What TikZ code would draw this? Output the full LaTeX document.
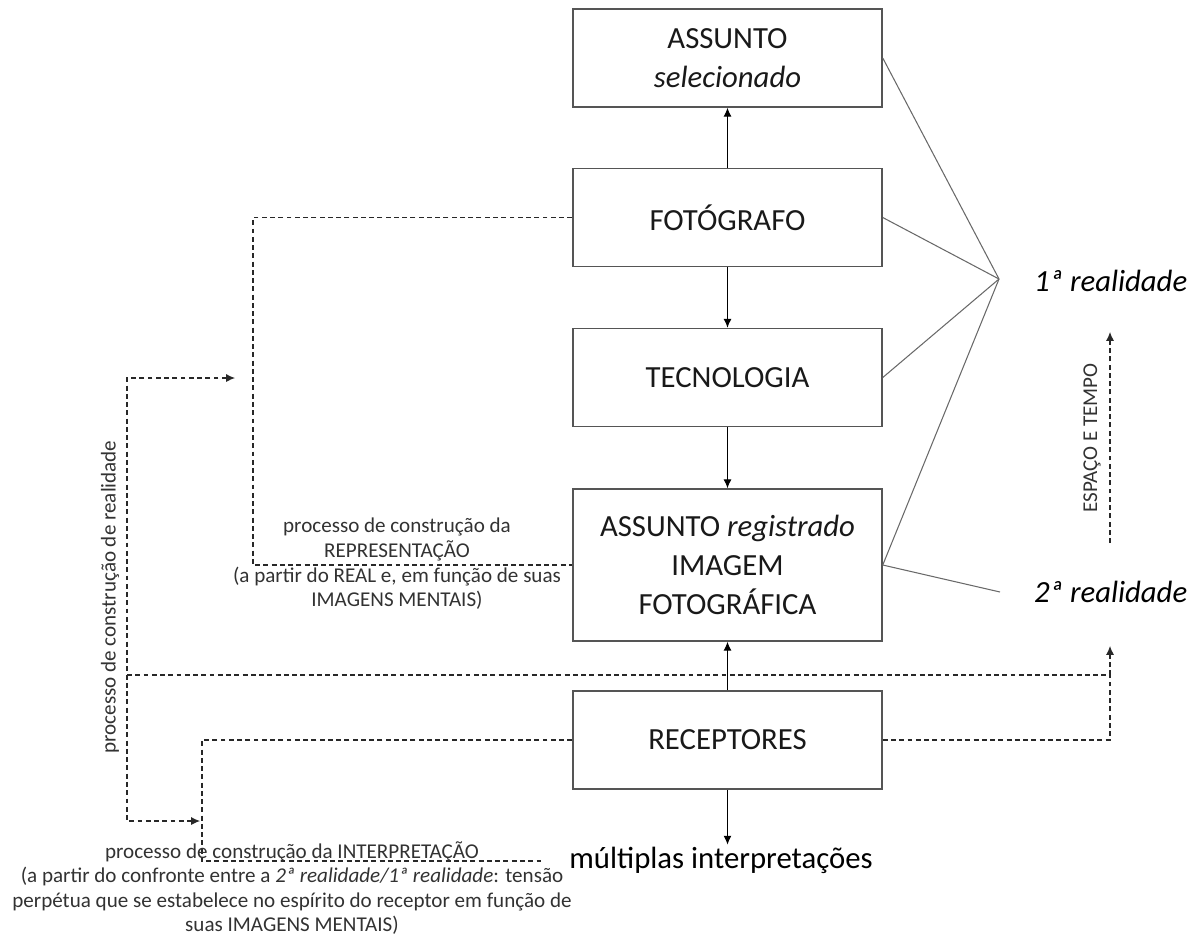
\documentclass[tikz,border=0pt]{standalone}
\usepackage{fontspec}
\setmainfont{Carlito}
\usetikzlibrary{arrows.meta, positioning}
\definecolor{boxgray}{RGB}{85,85,85}
\definecolor{linegray}{RGB}{105,105,105}
\definecolor{dashgray}{RGB}{40,40,40}
\definecolor{notegray}{RGB}{50,50,50}

\begin{document}
\begin{tikzpicture}[x=0.02cm, y=-0.02cm,
    box/.style={draw=boxgray, line width=0.9pt, minimum width=6.18cm, minimum height=1.96cm, align=center, text=black!90, font=\fontsize{17.5}{22}\selectfont},
    note/.style={align=center, text=notegray, font=\fontsize{12}{14}\selectfont},
    flow/.style={-{Latex[length=5pt, width=4.5pt]}, line width=0.6pt, black},
    dashline/.style={dash pattern=on 2.8pt off 1.9pt, line width=0.6pt, dashgray},
    link/.style={linegray, line width=0.6pt}]
\useasboundingbox (0,0) rectangle (1200,938);

% column of boxes
\node[box] (assunto) at (727.5,58) {ASSUNTO\\\textit{selecionado}};
\node[box] (fotografo) at (727.5,217.5) {FOTÓGRAFO};
\node[box] (tecnologia) at (727.5,377.5) {TECNOLOGIA};
\node[box, minimum height=3.04cm] (imagem) at (727.5,565) {ASSUNTO \textit{registrado}\\IMAGEM\\FOTOGRÁFICA};
\node[box] (receptores) at (727.5,740) {RECEPTORES};
\node[inner sep=1pt, font=\fontsize{17.5}{20}\selectfont] (multiplas) at (721,860) {múltiplas interpretações};

\draw[flow] (fotografo) -- (assunto);
\draw[flow] (fotografo) -- (tecnologia);
\draw[flow] (tecnologia) -- (imagem);
\draw[flow] (receptores) -- (imagem);
\draw[flow] (receptores.south) -- (receptores.south |- multiplas.north);

% the two realities
\node[anchor=west, font=\fontsize{17.5}{20}\selectfont\itshape] (real1) at (1028,281) {1ª realidade};
\node[anchor=west, font=\fontsize{17.5}{20}\selectfont\itshape] (real2) at (1028,592) {2ª realidade};
\coordinate (vertex1) at (999,279);
\coordinate (vertex2) at (1000,592);
\foreach \n in {assunto,fotografo,tecnologia,imagem}
    \draw[link] (\n.east) -- (vertex1);
\draw[link] (imagem.east) -- (vertex2);

% space and time
\coordinate (tempo0) at (1110,543);
\coordinate (tempo1) at (1110,332);
\draw[dashline, -{Latex[length=5pt, width=4.5pt]}] (tempo0) -- (tempo1);
\node[note, rotate=90] (tempo) at (1092,438) {ESPAÇO E TEMPO};

% representation
\draw[dashline] (fotografo.west) -- (253,217.5) |- (imagem.west);
\node[note] (repr) at (397,564) {processo de construção da\\REPRESENTAÇÃO\\(a partir do REAL e, em função de suas\\IMAGENS MENTAIS)};

% construction of reality
\draw[dashline, {Latex[length=5pt, width=4.5pt]}-{Latex[length=5pt, width=4.5pt]}] (235,378) -- (127,378) -- (127,821) -- (200,821);
\node[note, rotate=90] (realidade) at (110,597) {processo de construção de realidade};
\draw[dashline, -{Latex[length=5pt, width=4.5pt]}] (127,675) -- (1110,675) -- (1110,646);
\draw[dashline] (receptores.east) -- (1110,740) -- (1110,675);

% interpretation
\draw[dashline] (receptores.west) -- (202,740) -- (202,861) -- (541,861);
\node[note] (interp) at (292,888) {processo de construção da INTERPRETAÇÃO\\(a partir do confronte entre a \textit{2ª realidade/1ª realidade}: tensão\\perpétua que se estabelece no espírito do receptor em função de\\suas IMAGENS MENTAIS)};
\end{tikzpicture}
\end{document}
